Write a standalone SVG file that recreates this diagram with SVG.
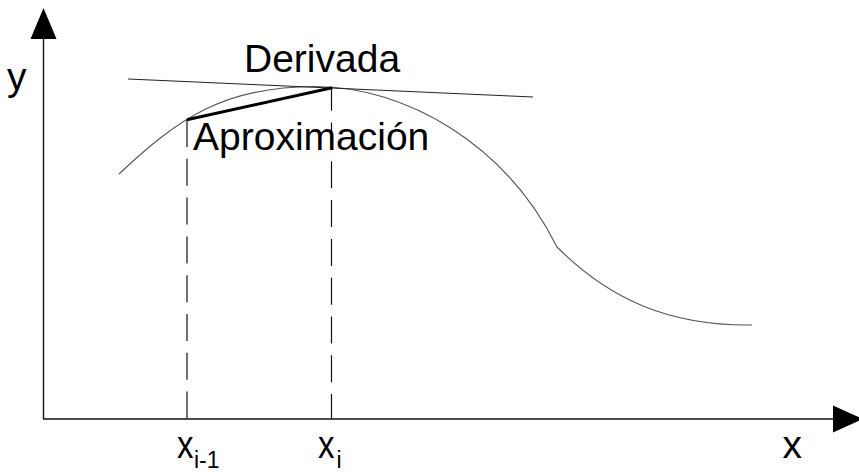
<svg xmlns="http://www.w3.org/2000/svg" width="859" height="473" viewBox="0 0 859 473">
  <style>
    .axis { stroke: #111; stroke-width: 1.4; fill: none; }
    .head { fill: #000; stroke: none; }
    .curve { stroke: #555; stroke-width: 1.1; fill: none; }
    .tangent { stroke: #222; stroke-width: 1; fill: none; }
    .secant { stroke: #000; stroke-width: 3; fill: none; stroke-linecap: round; }
    .dash { stroke: #111; stroke-width: 1.2; fill: none; stroke-dasharray: 27 11.8; }
    .lbl { font-family: "Liberation Sans", Arial, sans-serif; fill: #000; }
    .big { font-size: 39px; }
    .sub { font-size: 23px; }
  </style>
  <rect width="859" height="473" fill="#fff"/>

  <g id="axes">
    <line class="axis" x1="43.5" y1="38" x2="43.5" y2="419"/>
    <line class="axis" x1="43" y1="419" x2="834" y2="419"/>
    <polygon class="head" points="43.5,8 30.5,39 56.5,39"/>
    <polygon class="head" points="833,405.5 833,432.5 863,419"/>
  </g>

  <g id="curve">
    <path class="curve" d="M119,174 C179,117.6 225,86.5 315,86.5 C405,86.5 505,143 557,247 C610,300 670,326 752,325"/>
  </g>

  <g id="connectors">
    <line class="tangent" x1="128" y1="79" x2="533" y2="97"/>
    <line class="secant" x1="188" y1="119.5" x2="331" y2="88"/>
    <line class="dash" x1="187" y1="120" x2="187" y2="419"/>
    <line class="dash" x1="331.5" y1="88" x2="331.5" y2="419" stroke-dashoffset="4.3"/>
  </g>

  <g id="labels">
    <text class="lbl big" x="7" y="90">y</text>
    <text class="lbl big" x="244" y="72">Derivada</text>
    <text class="lbl big" x="193" y="150">Aproximación</text>
    <text class="lbl big" x="177" y="458" textLength="16.5" lengthAdjust="spacingAndGlyphs">x</text>
    <text class="lbl sub" x="194" y="468">i-1</text>
    <text class="lbl big" x="318" y="458" textLength="16.5" lengthAdjust="spacingAndGlyphs">x</text>
    <text class="lbl sub" x="336.5" y="468">i</text>
    <text class="lbl big" x="782.5" y="458">x</text>
  </g>
</svg>
